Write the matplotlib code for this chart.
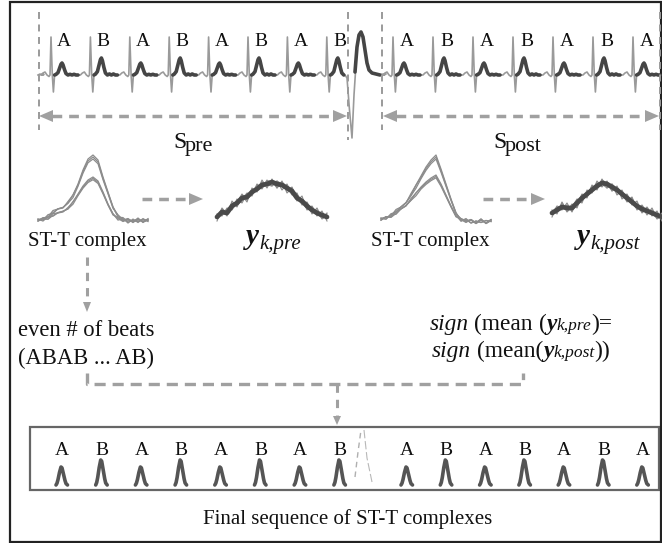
import matplotlib
matplotlib.use('Agg')
import matplotlib.pyplot as plt
from matplotlib.patches import Rectangle, Polygon

plt.rcParams['font.family'] = ['Liberation Serif', 'DejaVu Serif']
plt.rcParams['lines.scale_dashes'] = False

# ---------------- data ----------------
pre_labels = ['A', 'B', 'A', 'B', 'A', 'B', 'A', 'B']
post_labels = ['A', 'B', 'A', 'B', 'A', 'B', 'A']
t_wave_amp = {'A': 12, 'B': 17}          # T-wave height of alternating beats
final_amp = {'A': 18, 'B': 25}           # heights of final ST-T complexes

# one beat of the ECG strip (offset from R peak, amplitude)
qrs_dx = [-10, -8, -6, -4, -2, -1, 0, 1.3, 2.4, 3.6]
qrs_amp = [0, 2, 3, 0, -1.5, 0, 38, 0, -17, 0]
t_dx = [3.6, 5, 7, 8.5, 10, 11, 12, 13.5, 15, 17, 19, 21, 23, 25, 27]
t_shape = [0, 0.05, 0.2, 0.55, 0.9, 1.0, 0.85, 0.45, 0.12, 0, 0.06, 0, 0.06, 0, 0]

# ectopic beat (offset from its onset, amplitude)
ect_dx = [0, 2, 4.5, 7, 9, 10.5]
ect_amp = [0, -3, -35, -63, -20, 3]
ect_dark_dx = [10, 12, 14, 16, 18, 20, 22, 24, 27, 31, 35]
ect_dark_amp = [3, 28, 40, 43, 38, 25, 12, 5, 2, 1, 0]

# ST-T complexes (amplitude every 5 px)
stt_left_tall = [2, 3, 6, 10, 13, 15, 20, 27, 38, 52, 63, 67, 62, 45, 30, 15, 6, 3, 2, 1, 2, 1, 2]
stt_left_short = [2, 2, 4, 7, 9, 11, 14, 20, 28, 36, 42, 45, 41, 30, 18, 8, 3, 2, 1, 2, 1, 2, 1]
stt_right_tall = [3, 4, 7, 11, 15, 20, 28, 37, 46, 55, 62, 67, 53, 38, 23, 9, 2, 2, 1, 0, 1, 0, 1]
stt_right_short = [3, 4, 6, 9, 13, 17, 23, 29, 35, 40, 44, 47, 38, 27, 16, 6, 2, 1, 1, 0, 1, 0, 1]
stt_scales = [1.0, 0.97, 0.94]
stt_jitter = [
    [0, 1, -1, 1.5, 0, -1, 0.5, 0, 0, 0, 0, 0, 0, 0, 0, 0, 0.5, -1.5, 1.5, -1, 2, -1.5, 0.5],
    [1, -1, 1.5, -1, 0.5, 0, -0.5, 1, 0, 0, 0, 0, 0, 0, 0, 0.5, -1, 1.5, -2, 1, -1.5, 1.5, -0.5],
    [-1, 1.5, -1, 0, 1, 0.5, 0, -1, 0, 0, 0, 0, 0, 0, 0, -0.5, 1.5, -0.5, 1, -1.5, 1, -1, 1.5],
]

# averaged ST-T y_k (amplitude every 5 px) and individual deviations
yk_pre = [5, 10, 9, 16, 19, 24, 25, 30, 33, 37, 38, 40, 38, 37, 34, 31, 24, 21, 16, 12, 9, 7, 5]
yk_post = [9, 12, 15, 14, 14, 19, 24, 28, 32, 36, 39, 38, 35, 32, 28, 24, 20, 16, 13, 11, 9, 7, 5]
yk_dev = [
    [3, -4, 5, -3, 4, -5, 3, -4, 5, -3, 4, -4, 3, -5, 4, -3, 5, -4, 3, -4, 5, -3, 4],
    [-4, 3, -3, 5, -4, 3, -5, 4, -3, 5, -4, 3, -4, 4, -5, 3, -3, 5, -4, 3, -3, 4, -4],
    [1, -3, 4, -4, 1, 4, -3, -1, 4, -4, 3, 1, -4, 3, 1, -4, 4, -1, -3, 4, -1, -3, 3],
    [-1, 4, -1, 3, -3, -1, 4, -3, 1, 3, -1, -4, 3, 1, -3, 4, -1, -3, 4, -1, 3, -4, 1],
]

# final ST-T complex glyph (offset, fraction of height)
lam_dx = [-6, -5, -4, -2.5, -1, 0, 1.5, 3, 4, 5.5]
lam_shape = [0, 0.1, 0.3, 0.7, 1.0, 0.95, 0.6, 0.25, 0.08, 0]

# ---------------- layout ----------------
W, H = 662, 543
fig = plt.figure(figsize=(W / 100, H / 100), dpi=100)
ax = fig.add_axes([0, 0, 1, 1])
ax.set_xlim(0, W)
ax.set_ylim(H, 0)
ax.axis('off')
renderer = fig.canvas.get_renderer()

GRAY = '#9a9a9a'
DARK = '#454545'
ARROW = '#a0a0a0'
TXT = '#111111'

ECG_BASE = 75
PRE_R0, PRE_STEP = 51, 39.4
POST_R0, POST_STEP = 393, 40
ECT_X = 345


def ecg_beat(R, amp, cut=None, tail_end=None):
    xs = [R + d for d in qrs_dx]
    ys = list(qrs_amp)
    dxs, dys = [], []
    for d, s in zip(t_dx, t_shape):
        if cut is not None and d > cut:
            break
        dxs.append(R + d)
        dys.append(s * amp)
    if tail_end is not None:
        dxs.append(tail_end)
        dys.append(0)
    return xs + dxs, ys + dys, dxs, dys


gx, gy = [38, 40, 42, 44], [0, 1, 0, 0.5]
darks = []
for i, lab in enumerate(pre_labels):
    R = PRE_R0 + i * PRE_STEP
    last = (i == len(pre_labels) - 1)
    xs, ys, dx_, dy_ = ecg_beat(R, t_wave_amp[lab], cut=17 if last else None)
    gx += xs
    gy += ys
    darks.append((dx_, dy_))
    ax.text(R + 13, 46, lab, fontsize=14, color=TXT, ha='center', va='baseline')

# ectopic beat
gx += [ECT_X + d for d in ect_dx]
gy += ect_amp
darks.append(([ECT_X + d for d in ect_dark_dx], ect_dark_amp))
gx += [ECT_X + d for d in ect_dark_dx]
gy += ect_dark_amp
gx += [382, 384, 386]
gy += [1, 0, 1]

for i, lab in enumerate(post_labels):
    R = POST_R0 + i * POST_STEP
    last = (i == len(post_labels) - 1)
    xs, ys, dx_, dy_ = ecg_beat(R, t_wave_amp[lab], tail_end=660 if last else None)
    gx += xs
    gy += ys
    darks.append((dx_, dy_))
    ax.text(R + 14, 46, lab, fontsize=14, color=TXT, ha='center', va='baseline')

ax.plot(gx, [ECG_BASE - v for v in gy], color=GRAY, lw=1.2, solid_joinstyle='round')
for dx_, dy_ in darks:
    ax.plot(dx_, [ECG_BASE - v for v in dy_], color=DARK, lw=2.6,
            solid_capstyle='round', solid_joinstyle='round')

# vertical dashed separators
for x, y1 in [(39, 130), (348, 140), (382, 130), (660, 130)]:
    ax.plot([x, x], [12, y1], color=GRAY, lw=1.4, dashes=(5, 4))


def head(tip, direction, length=14, half=6, color=ARROW):
    x, y = tip
    if direction == 'left':
        pts = [(x, y), (x + length, y - half), (x + length, y + half)]
    elif direction == 'right':
        pts = [(x, y), (x - length, y - half), (x - length, y + half)]
    else:  # down
        pts = [(x, y), (x - half, y - length), (x + half, y - length)]
    ax.add_patch(Polygon(pts, closed=True, color=color, lw=0))


def dline(xs, ys, lw=2.5, dashes=(7, 5)):
    ax.plot(xs, ys, color=ARROW, lw=lw, dashes=dashes, solid_capstyle='butt',
            dash_capstyle='butt')


# S_pre / S_post arrows
dline([52, 333], [116, 116])
head((39, 116), 'left')
head((347, 116), 'right')
dline([396, 645], [116, 116])
head((383, 116), 'left')
head((659, 116), 'right')

ax.text(173, 148, 'S', fontsize=17, color=TXT, va='baseline')
ax.text(185, 151, 'pre', fontsize=16, color=TXT, va='baseline')
ax.text(493, 148, 'S', fontsize=17, color=TXT, va='baseline')
ax.text(505, 151, 'post', fontsize=16, color=TXT, va='baseline')

# ST-T complexes groups
STT_BASE = 222


def stt_group(x0, tall, short):
    for arr in (tall, short):
        for sc, jit in zip(stt_scales, stt_jitter):
            xs = [x0 + 5 * k for k in range(len(arr))]
            ys = [STT_BASE - (a * sc + j) for a, j in zip(arr, jit)]
            ax.plot(xs, ys, color='#8c8c8c', lw=0.9)


stt_group(38, stt_left_tall, stt_left_short)
stt_group(381, stt_right_tall, stt_right_short)


def yk_group(x0, mean):
    xs = [x0 + 5 * k for k in range(len(mean))]
    for dev in yk_dev:
        ax.plot(xs, [STT_BASE - (m + d) for m, d in zip(mean, dev)], color='#8a8a8a', lw=0.8)
    ax.plot(xs, [STT_BASE - m for m in mean], color='#4a4a4a', lw=3.4,
            solid_joinstyle='round', solid_capstyle='round')


yk_group(217, yk_pre)
yk_group(552, yk_post)

# horizontal arrows to y_k
dline([142, 188], [199, 199])
head((203, 199), 'right')
dline([483, 530], [199, 199])
head((545, 199), 'right')

ax.text(87, 246, 'ST-T complex', fontsize=15, color=TXT, ha='center', va='baseline')
ax.text(430, 246, 'ST-T complex', fontsize=15, color=TXT, ha='center', va='baseline')


def rich(x, y, pieces, ha='left'):
    objs, widths = [], []
    for p in pieces:
        if p[0] is None:
            objs.append(None)
            widths.append(p[1])
            continue
        t = ax.text(0, y + p[2], p[0], va='baseline', ha='left', color=TXT, **p[1])
        objs.append(t)
        widths.append(t.get_window_extent(renderer).width)
    total = sum(widths)
    x0 = x - total / 2 if ha == 'center' else (x - total if ha == 'right' else x)
    for t, w in zip(objs, widths):
        if t is not None:
            t.set_x(x0)
        x0 += w


BI20 = dict(fontsize=21, fontweight='bold', fontstyle='italic')
IT15 = dict(fontsize=15, fontstyle='italic')
rich(246, 244, [('y', BI20, 0), (None, 1), ('k,pre', IT15, 5)])
rich(577, 244, [('y', BI20, 0), (None, 1), ('k,post', IT15, 5)])

# even # of beats
dline([87, 87], [257, 300], lw=2.2, dashes=(6, 5))
head((87, 312), 'down', length=10, half=4)
ax.text(18, 336, 'even # of beats', fontsize=16.3, color=TXT, va='baseline')
ax.text(18, 364, '(ABAB ... AB)', fontsize=16.3, color=TXT, va='baseline')

RM = dict(fontsize=16.8)
IT = dict(fontsize=16.8, fontstyle='italic')
BI = dict(fontsize=16.8, fontweight='bold', fontstyle='italic')
IT12 = dict(fontsize=12.5, fontstyle='italic')
sp = 16.8 * 100 / 72 * 0.25
rich(521, 330, [('sign', IT, 0), (None, sp), ('(mean', RM, 0), (None, sp), ('(', RM, 0),
                ('y', BI, 0), ('k,pre', IT12, 0), (')=', RM, 0)], ha='center')
rich(521, 357, [('sign', IT, 0), (None, sp), ('(mean(', RM, 0),
                ('y', BI, 0), ('k,post', IT12, 0), ('))', RM, 0)], ha='center')

# bracket
dline([87, 87, 523, 523], [373, 384, 384, 373], lw=2.4, dashes=(8, 5))
dline([337, 337], [384, 415], lw=2.2, dashes=(6, 5))
head((337, 425), 'down', length=9, half=4)

# final sequence box
ax.add_patch(Rectangle((30, 427), 629, 63, fill=False, ec='#666666', lw=1.6))
FINAL_BASE = 485
for i, lab in enumerate(pre_labels):
    x = 62 + i * 39.7
    h = final_amp[lab]
    ax.plot([x + d for d in lam_dx], [FINAL_BASE - s * h for s in lam_shape],
            color='#555555', lw=2.6, solid_capstyle='round', solid_joinstyle='round')
    ax.text(x, 455, lab, fontsize=14, color=TXT, ha='center', va='baseline')
for i, lab in enumerate(post_labels):
    x = 407 + i * 39.3
    h = final_amp[lab]
    ax.plot([x + d for d in lam_dx], [FINAL_BASE - s * h for s in lam_shape],
            color='#555555', lw=2.6, solid_capstyle='round', solid_joinstyle='round')
    ax.text(x, 455, lab, fontsize=14, color=TXT, ha='center', va='baseline')
# removed ectopic beat
ax.plot([355, 358, 361], [477, 452, 430], color='#b0b0b0', lw=1.0, dashes=(4, 3))
ax.plot([364, 367, 372], [430, 458, 482], color='#b8b8b8', lw=0.8, dashes=(6, 2))

ax.text(348, 524, 'Final sequence of ST-T complexes', fontsize=15, color=TXT,
        ha='center', va='baseline')

# outer frame
ax.add_patch(Rectangle((10, 2), 650.5, 540, fill=False, ec='#222222', lw=1.6))

fig.savefig('out.png', dpi=100)
